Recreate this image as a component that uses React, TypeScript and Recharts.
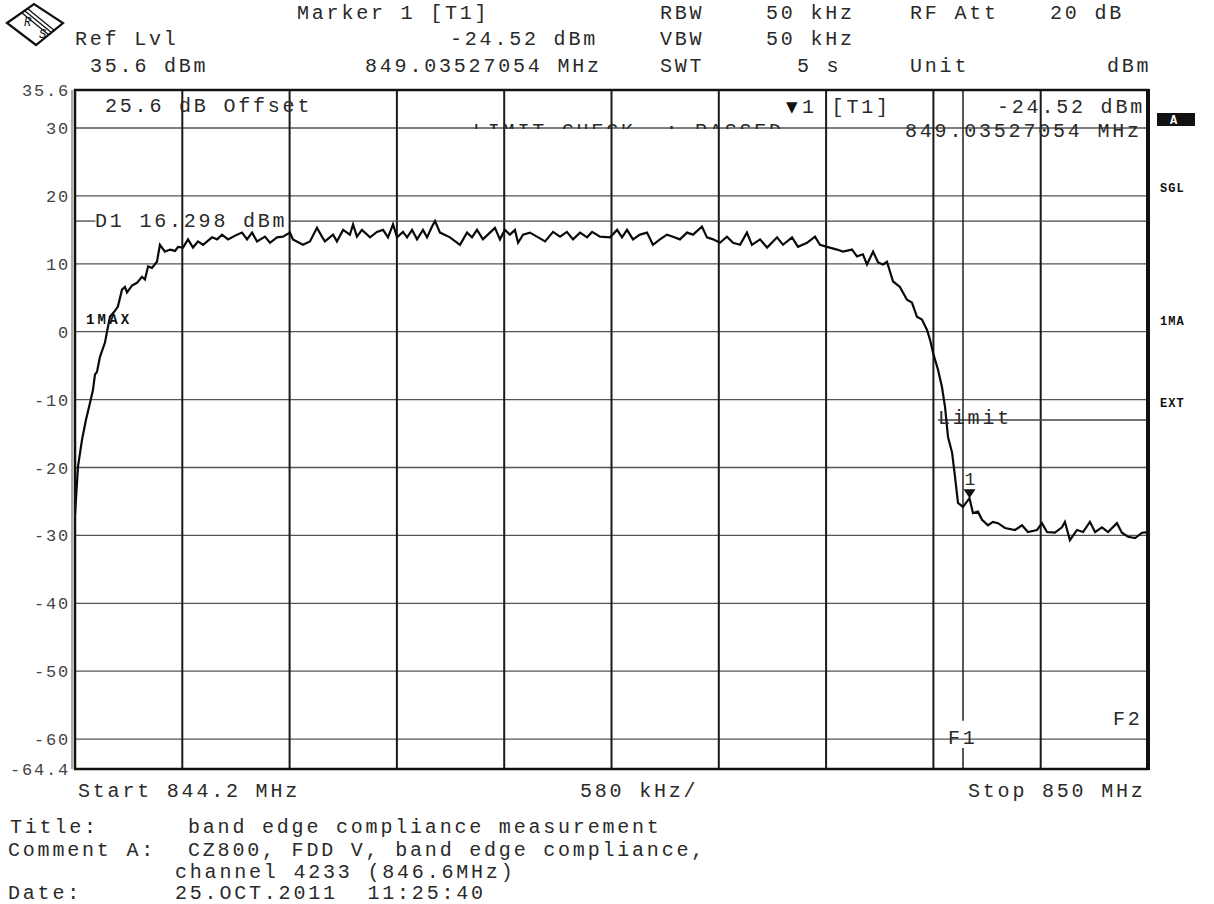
import React from 'react';
import { LineChart, Line, XAxis, YAxis, ReferenceLine, ReferenceDot } from 'recharts';

// sweep points (MHz / dBm)
const freqMHz = [
  844.200, 844.205, 844.216, 844.238, 844.259, 844.281, 844.297, 844.308, 844.319, 844.335,
  844.362, 844.373, 844.389, 844.411, 844.432, 844.454, 844.470, 844.481, 844.508, 844.535,
  844.562, 844.578, 844.595, 844.616, 844.643, 844.659, 844.686, 844.714, 844.741, 844.757,
  844.784, 844.811, 844.838, 844.865, 844.892, 844.941, 844.968, 844.995, 845.027, 845.076,
  845.103, 845.130, 845.157, 845.184, 845.227, 845.254, 845.292, 845.324, 845.362, 845.378,
  845.432, 845.470, 845.508, 845.535, 845.551, 845.595, 845.616, 845.649, 845.686, 845.703,
  845.724, 845.751, 845.795, 845.832, 845.865, 845.892, 845.919, 845.941, 845.973, 845.995,
  846.022, 846.049, 846.081, 846.103, 846.130, 846.146, 846.173, 846.227, 846.281, 846.319,
  846.346, 846.373, 846.405, 846.443, 846.470, 846.497, 846.524, 846.551, 846.578, 846.595,
  846.622, 846.659, 846.697, 846.741, 846.784, 846.822, 846.859, 846.892, 846.930, 846.968,
  846.995, 847.038, 847.092, 847.130, 847.157, 847.184, 847.216, 847.254, 847.292, 847.324,
  847.362, 847.400, 847.432, 847.470, 847.508, 847.541, 847.589, 847.616, 847.649, 847.686,
  847.724, 847.757, 847.795, 847.832, 847.859, 847.903, 847.941, 847.995, 848.027, 848.076,
  848.108, 848.157, 848.200, 848.227, 848.265, 848.319, 848.351, 848.400, 848.427, 848.459,
  848.481, 848.514, 848.541, 848.568, 848.589, 848.622, 848.659, 848.697, 848.724, 848.751,
  848.778, 848.805, 848.822, 848.838, 848.865, 848.886, 848.903, 848.919, 848.941, 848.957,
  848.973, 849.000, 849.035, 849.054, 849.081, 849.103, 849.135, 849.162, 849.189, 849.227,
  849.281, 849.319, 849.351, 849.400, 849.427, 849.454, 849.497, 849.535, 849.551, 849.578,
  849.616, 849.649, 849.686, 849.714, 849.751, 849.784, 849.832, 849.859, 849.892, 849.930,
  849.968, 850.000,
];

const levelDbm = [
  -27.0, -24.8, -19.9, -15.9, -13.0, -10.5, -8.6, -6.3, -5.9, -3.7,
  -1.6, 0.0, 2.2, 2.9, 3.7, 6.2, 6.6, 5.8, 6.8, 7.2,
  8.1, 7.7, 9.6, 9.4, 10.3, 12.8, 11.8, 12.1, 11.9, 12.5,
  12.4, 13.6, 12.4, 13.3, 12.8, 13.9, 13.6, 14.3, 13.6, 14.3,
  14.6, 13.6, 14.6, 13.3, 14.0, 13.1, 13.9, 14.0, 14.6, 13.6,
  12.8, 13.3, 15.3, 14.0, 13.3, 14.3, 13.3, 15.0, 14.3, 15.8,
  14.0, 15.0, 13.9, 14.7, 15.0, 13.9, 15.8, 13.9, 14.7, 13.9,
  15.0, 13.6, 15.0, 13.9, 15.5, 16.3, 14.6, 13.9, 12.8, 14.6,
  13.9, 15.0, 13.6, 14.6, 15.3, 13.6, 15.0, 14.3, 15.0, 13.1,
  14.3, 14.6, 14.0, 13.3, 14.7, 14.0, 14.7, 13.6, 14.6, 13.9,
  14.7, 14.0, 13.9, 15.0, 13.9, 15.0, 13.6, 14.3, 14.6, 12.8,
  13.6, 14.3, 14.0, 13.6, 14.6, 14.3, 15.5, 13.9, 13.6, 13.1,
  14.0, 13.1, 12.8, 14.6, 12.8, 13.6, 12.4, 13.9, 12.8, 13.9,
  12.5, 13.1, 14.0, 12.8, 12.5, 12.1, 11.8, 12.1, 11.1, 11.4,
  9.9, 11.8, 10.2, 9.9, 10.3, 7.4, 6.6, 4.7, 4.3, 2.2,
  1.8, 0.3, -1.2, -3.1, -5.6, -8.1, -11.1, -15.5, -17.8, -21.4,
  -25.2, -25.8, -24.52, -26.7, -26.5, -27.7, -28.5, -28.0, -28.2, -28.9,
  -29.2, -28.5, -29.5, -29.2, -28.2, -29.5, -29.6, -28.8, -28.0, -30.7,
  -29.2, -29.5, -28.0, -29.5, -28.8, -29.5, -28.2, -29.6, -30.2, -30.4,
  -29.6, -29.5,
];

const yTicks = [35.6, 30, 20, 10, 0, -10, -20, -30, -40, -50, -60, -64.4];
const yGridDbm = [30, 20, 10, 0, -10, -20, -30, -40, -50, -60];
const xGridMHz = [844.78, 845.36, 845.94, 846.52, 847.1, 847.68, 848.26, 848.84, 849.42];
const startMHz = 844.2;
const stopMHz = 850;
const refLvl = 35.6;
const bottomLvl = -64.4;
const displayLineDbm = 16.298;
const limitDbm = -13;
const limitStartMHz = 848.865;
const f1MHz = 849;
const markerMHz = 849.03527054;
const markerDbm = -24.52;

const trace = freqMHz.map((f, i) => ({ f, dbm: levelDbm[i] }));

const FONT = '"Liberation Mono", "DejaVu Sans Mono", monospace';
const INK = '#2a2a2a';

const Txt = ({ x, y, children, size = 20, bold = false, fill = INK, spacing = 2.8 }: any) => (
  <text
    x={x}
    y={y}
    fontFamily={FONT}
    fontSize={size}
    fontWeight={bold ? 700 : 400}
    fill={fill}
    letterSpacing={spacing}
    xmlSpace="preserve"
    style={{ whiteSpace: 'pre' }}
  >
    {children}
  </text>
);

const MarkerShape = (props: any) => {
  const { cx, cy } = props;
  return (
    <g>
      <path d={`M${cx - 6},${cy - 9} L${cx + 6},${cy - 9} L${cx},${cy} Z`} fill="#111" />
      <text x={cx - 5} y={cy - 13} fontFamily={FONT} fontSize={18} fill={INK}>1</text>
    </g>
  );
};

const App = () => {
  return (
    <div style={{ position: 'absolute', left: 0, top: 0, width: 1214, height: 904, background: '#fff' }}>
      <LineChart
        width={1214}
        height={904}
        data={trace}
        margin={{ top: 90, right: 66, bottom: 135, left: 0 }}
      >
        <XAxis dataKey="f" type="number" domain={[startMHz, stopMHz]} allowDataOverflow hide />
        <YAxis
          type="number"
          domain={[bottomLvl, refLvl]}
          allowDataOverflow
          ticks={yTicks}
          interval={0}
          width={75}
          axisLine={false}
          tickLine={false}
          tickSize={3}
          tickMargin={2}
          tick={{ fontFamily: FONT, fontSize: 17, fill: '#444', letterSpacing: 1.8 }}
        />
        {yGridDbm.map((v) => (
          <ReferenceLine key={`h${v}`} y={v} stroke="#555" strokeWidth={1.3} />
        ))}
        {xGridMHz.map((v) => (
          <ReferenceLine key={`v${v}`} x={v} stroke="#1a1a1a" strokeWidth={2} />
        ))}
        <ReferenceLine
          segment={[{ x: startMHz, y: displayLineDbm }, { x: 844.31, y: displayLineDbm }]}
          stroke="#444"
          strokeWidth={1.3}
        />
        <ReferenceLine
          segment={[{ x: 845.36, y: displayLineDbm }, { x: stopMHz, y: displayLineDbm }]}
          stroke="#444"
          strokeWidth={1.3}
        />
        <ReferenceLine
          segment={[{ x: limitStartMHz, y: limitDbm }, { x: stopMHz, y: limitDbm }]}
          stroke="#444"
          strokeWidth={1.3}
        />
        <ReferenceLine
          segment={[{ x: f1MHz, y: refLvl }, { x: f1MHz, y: -57.3 }]}
          stroke="#222"
          strokeWidth={1.5}
        />
        <ReferenceLine
          segment={[{ x: f1MHz, y: -61.3 }, { x: f1MHz, y: bottomLvl }]}
          stroke="#222"
          strokeWidth={1.5}
        />
        <Line
          dataKey="dbm"
          type="linear"
          stroke="#0a0a0a"
          strokeWidth={2.2}
          dot={false}
          isAnimationActive={false}
        />
        <ReferenceDot x={markerMHz} y={markerDbm} r={6} shape={MarkerShape} />
      </LineChart>

      <svg
        width={1214}
        height={904}
        style={{ position: 'absolute', left: 0, top: 0, pointerEvents: 'none' }}
      >
        <defs>
          <clipPath id="limitClip">
            <rect x={0} y={0} width={1214} height={129} />
          </clipPath>
          <clipPath id="boxClip">
            <rect x={0} y={0} width={1146} height={904} />
          </clipPath>
        </defs>

        {/* frame */}
        <line x1={72} y1={90} x2={72} y2={769} stroke="#555" strokeWidth={1} />
        <rect x={75} y={90} width={1073} height={679} fill="none" stroke="#111" strokeWidth={2.5} />
        <line x1={1148} y1={89} x2={1148} y2={770} stroke="#111" strokeWidth={4} />

        {/* logo */}
        <polygon points="7,23 34,4 63,23 36,45" fill="none" stroke="#111" strokeWidth={2.2} />
        <line x1={22} y1={13} x2={49} y2={35} stroke="#111" strokeWidth={1.3} />
        <line x1={25} y1={11} x2={52} y2={33} stroke="#111" strokeWidth={1.3} />
        <line x1={28} y1={9} x2={55} y2={31} stroke="#111" strokeWidth={1.3} />
        <text x={24} y={26} fontFamily={FONT} fontSize={12} fontStyle="italic" fill="#111">R</text>
        <text x={39} y={38} fontFamily={FONT} fontSize={12} fontStyle="italic" fill="#111">S</text>

        {/* header */}
        <Txt x={297} y={19}>Marker 1 [T1]</Txt>
        <Txt x={660} y={19}>RBW</Txt>
        <Txt x={766} y={19}>50 kHz</Txt>
        <Txt x={910} y={19}>RF Att</Txt>
        <Txt x={1050} y={19}>20 dB</Txt>
        <Txt x={75} y={45}>Ref Lvl</Txt>
        <Txt x={450} y={45}>-24.52 dBm</Txt>
        <Txt x={660} y={45}>VBW</Txt>
        <Txt x={766} y={45}>50 kHz</Txt>
        <Txt x={90} y={72}>35.6 dBm</Txt>
        <Txt x={365} y={72}>849.03527054 MHz</Txt>
        <Txt x={660} y={72}>SWT</Txt>
        <Txt x={797} y={72}>5 s</Txt>
        <Txt x={910} y={72}>Unit</Txt>
        <Txt x={1107} y={72}>dBm</Txt>

        {/* inside the graticule */}
        <Txt x={105} y={112}>25.6 dB Offset</Txt>
        <g clipPath="url(#limitClip)">
          <Txt x={473} y={137}>LIMIT CHECK  : PASSED</Txt>
        </g>
        <text x={786} y={112} fontFamily='"DejaVu Sans", sans-serif' fontSize={15} fill="#111">▼</text>
        <Txt x={802} y={113}>1 [T1]</Txt>
        <g clipPath="url(#boxClip)">
          <Txt x={997} y={113}>-24.52 dBm</Txt>
        </g>
        <Txt x={905} y={137}>849.03527054 MHz</Txt>
        <Txt x={95} y={227}>D1 16.298 dBm</Txt>
        <Txt x={86} y={324} size={14} bold spacing={3.2} fill="#111">1MAX</Txt>
        <Txt x={938} y={424}>Limit</Txt>
        <Txt x={948} y={744}>F1</Txt>
        <Txt x={1113} y={725}>F2</Txt>

        {/* right side flags */}
        <rect x={1157} y={113} width={38} height={13} fill="#111" />
        <Txt x={1170} y={124} size={12} bold spacing={0} fill="#fff">A</Txt>
        <Txt x={1160} y={192} size={12} bold spacing={1} fill="#111">SGL</Txt>
        <Txt x={1160} y={325} size={12} bold spacing={1} fill="#111">1MA</Txt>
        <Txt x={1160} y={407} size={12} bold spacing={1} fill="#111">EXT</Txt>

        {/* bottom axis text */}
        <Txt x={78} y={797}>Start 844.2 MHz</Txt>
        <Txt x={580} y={797}>580 kHz/</Txt>
        <Txt x={968} y={797}>Stop 850 MHz</Txt>

        {/* footer */}
        <Txt x={10} y={833}>Title:</Txt>
        <Txt x={188} y={833}>band edge compliance measurement</Txt>
        <Txt x={8} y={856}>Comment A:</Txt>
        <Txt x={188} y={856}>CZ800, FDD V, band edge compliance,</Txt>
        <Txt x={175} y={878}>channel 4233 (846.6MHz)</Txt>
        <Txt x={8} y={899}>Date:</Txt>
        <Txt x={175} y={899}>25.OCT.2011  11:25:40</Txt>
      </svg>
    </div>
  );
};

export default App;
